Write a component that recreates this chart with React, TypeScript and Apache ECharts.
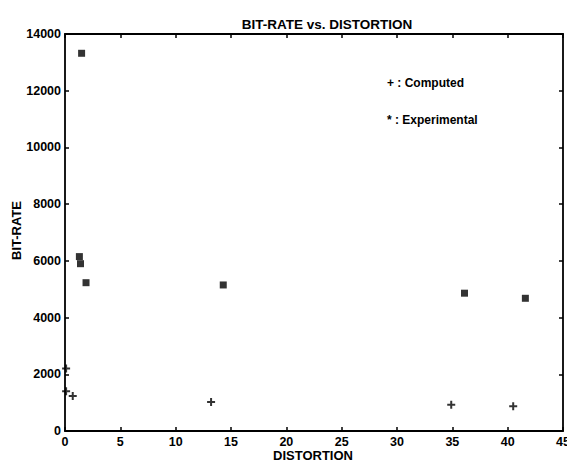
import React, { useEffect, useRef } from "react";
import * as echarts from "echarts";

const computedX = [0.1, 0.1, 0.7, 13.2, 34.9, 40.5];
const computedY = [2200, 1400, 1230, 1020, 930, 870];
const experimentalX = [1.5, 1.3, 1.4, 1.9, 14.3, 36.1, 41.6];
const experimentalY = [13320, 6150, 5900, 5230, 5150, 4860, 4680];
const xTicks = [0, 5, 10, 15, 20, 25, 30, 35, 40, 45];
const yTicks = [0, 2000, 4000, 6000, 8000, 10000, 12000, 14000];

const FONT = "Liberation Sans, Arial, sans-serif";

export default function App() {
  const ref = useRef<HTMLDivElement>(null);
  useEffect(() => {
    if (!ref.current) return;
    const chart = echarts.init(ref.current, null, { renderer: "svg" });
    const line = { show: true, onZero: false, lineStyle: { color: "#000", width: 1.8 } };
    const tick = { show: true, inside: true, length: 4, lineStyle: { color: "#000", width: 1.5 } };
    const label = {
      fontFamily: FONT,
      fontSize: 12.5,
      fontWeight: "bold",
      color: "#000",
      margin: 4,
      formatter: (v: number) => String(v),
    };
    chart.setOption({
      animation: false,
      backgroundColor: "#fff",
      title: {
        text: "BIT-RATE vs. DISTORTION",
        left: 322,
        top: 12,
        textAlign: "center",
        textStyle: { fontFamily: FONT, fontSize: 13.5, fontWeight: "bold", color: "#000" },
      },
      grid: { left: 65, right: 4, top: 34, bottom: 31, outerBoundsMode: "none", containLabel: false },
      xAxis: [
        {
          type: "value",
          min: xTicks[0],
          max: xTicks[xTicks.length - 1],
          interval: 5,
          axisLine: line,
          axisTick: tick,
          splitLine: { show: false },
          axisLabel: { ...label, showMaxLabel: true, alignMaxLabel: "center" },
        },
        {
          type: "value",
          position: "top",
          min: xTicks[0],
          max: xTicks[xTicks.length - 1],
          interval: 5,
          axisLine: line,
          axisTick: tick,
          splitLine: { show: false },
          axisLabel: { show: false },
        },
      ],
      yAxis: [
        {
          type: "value",
          min: yTicks[0],
          max: yTicks[yTicks.length - 1],
          interval: 2000,
          axisLine: line,
          axisTick: tick,
          splitLine: { show: false },
          axisLabel: label,
        },
        {
          type: "value",
          position: "right",
          min: yTicks[0],
          max: yTicks[yTicks.length - 1],
          interval: 2000,
          axisLine: line,
          axisTick: tick,
          splitLine: { show: false },
          axisLabel: { show: false },
        },
      ],
      graphic: [
        {
          type: "text",
          left: 273,
          top: 449,
          style: { text: "DISTORTION", fontFamily: FONT, fontSize: 13, fontWeight: "bold", fill: "#000" },
        },
        {
          type: "text",
          left: 10,
          top: 201,
          rotation: Math.PI / 2,
          style: { text: "BIT-RATE", fontFamily: FONT, fontSize: 13, fontWeight: "bold", fill: "#000" },
        },
        {
          type: "text",
          left: 387,
          top: 77,
          style: { text: "+ : Computed", fontFamily: FONT, fontSize: 12, fontWeight: "bold", fill: "#000" },
        },
        {
          type: "text",
          left: 387,
          top: 114,
          style: { text: "* : Experimental", fontFamily: FONT, fontSize: 12, fontWeight: "bold", fill: "#000" },
        },
      ],
      series: [
        {
          name: "Computed",
          type: "scatter",
          data: computedX.map((x, i) => [x, computedY[i]]),
          symbol: "path://M3,0h2v3h3v2h-3v3h-2v-3h-3v-2h3z",
          symbolSize: 8,
          itemStyle: { color: "#000" },
        },
        {
          name: "Experimental",
          type: "scatter",
          data: experimentalX.map((x, i) => [x, experimentalY[i]]),
          symbol: "rect",
          symbolSize: 7,
          itemStyle: { color: "#000" },
        },
      ],
    });
    return () => chart.dispose();
  }, []);
  return (
    <div
      ref={ref}
      style={{ position: "fixed", left: 0, top: 0, width: 567, height: 462 }}
    />
  );
}
